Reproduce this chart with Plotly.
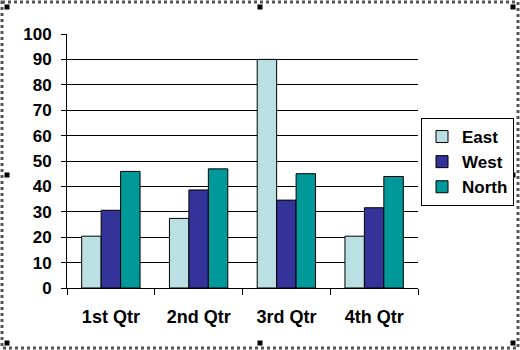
import plotly.graph_objects as go

categories = ["1st Qtr", "2nd Qtr", "3rd Qtr", "4th Qtr"]
east = [20.4, 27.4, 90, 20.4]
west = [30.6, 38.6, 34.6, 31.6]
north = [45.9, 46.9, 45, 43.9]
series_names = ["East", "West", "North"]
series_colors = ["#BBE0E3", "#333399", "#009999"]

W, H = 520, 350
L, R, T, B = 67, 418, 34, 288

fig = go.Figure()
for name, vals, col in zip(series_names, [east, west, north], series_colors):
    fig.add_trace(go.Bar(x=categories, y=vals, name=name, legendgroup=name,
                         marker=dict(color=col, line=dict(color="black", width=1))))

yfont = dict(family="Liberation Sans", size=17, color="black", weight="bold")
xfont = dict(family="Liberation Sans", size=18, color="black", weight="bold")
lfont = dict(family="Liberation Sans", size=17, color="black", weight="bold")

def px(x):
    return (x - L) / (R - L)

def py(y):
    return (B - y) / (B - T)

shapes = []
# hatched outer frame
shapes.append(dict(type="rect", xref="paper", yref="paper",
                   x0=px(2), x1=px(518), y0=py(2), y1=py(348),
                   line=dict(color="#555555", width=3, dash="dot"), layer="above"))
# selection handles
for hx, hy in [(7, 7), (260, 7), (513, 7), (7, 175), (513, 175), (7, 343), (260, 343), (513, 343)]:
    shapes.append(dict(type="rect", xref="paper", yref="paper",
                       x0=px(hx - 2.5), x1=px(hx + 2.5), y0=py(hy - 2.5), y1=py(hy + 2.5),
                       fillcolor="black", line=dict(width=0), layer="above"))

fig.update_layout(
    width=W, height=H,
    margin=dict(l=L, r=W - R, t=T, b=H - B, autoexpand=False),
    paper_bgcolor="white", plot_bgcolor="white",
    barmode="group", bargap=0.335, bargroupgap=0,
    font=yfont,
    showlegend=True,
    legend=dict(x=px(421), y=py(118), xanchor="left", yanchor="top",
                bordercolor="black", borderwidth=1, bgcolor="white",
                font=lfont, tracegroupgap=0, itemwidth=30),
    xaxis=dict(showline=True, linecolor="black", linewidth=1,
               ticks="outside", tickson="boundaries", ticklen=6, tickcolor="black",
               showgrid=False, tickfont=xfont, ticklabelstandoff=12),
    yaxis=dict(range=[0, 100], dtick=10, showline=True, linecolor="black", linewidth=1,
               ticks="outside", ticklen=5, tickcolor="black",
               showgrid=True, gridcolor="black", gridwidth=1, tickfont=yfont,
               zeroline=False, ticklabelstandoff=6),
    shapes=shapes,
)

fig.write_html("out.html")
